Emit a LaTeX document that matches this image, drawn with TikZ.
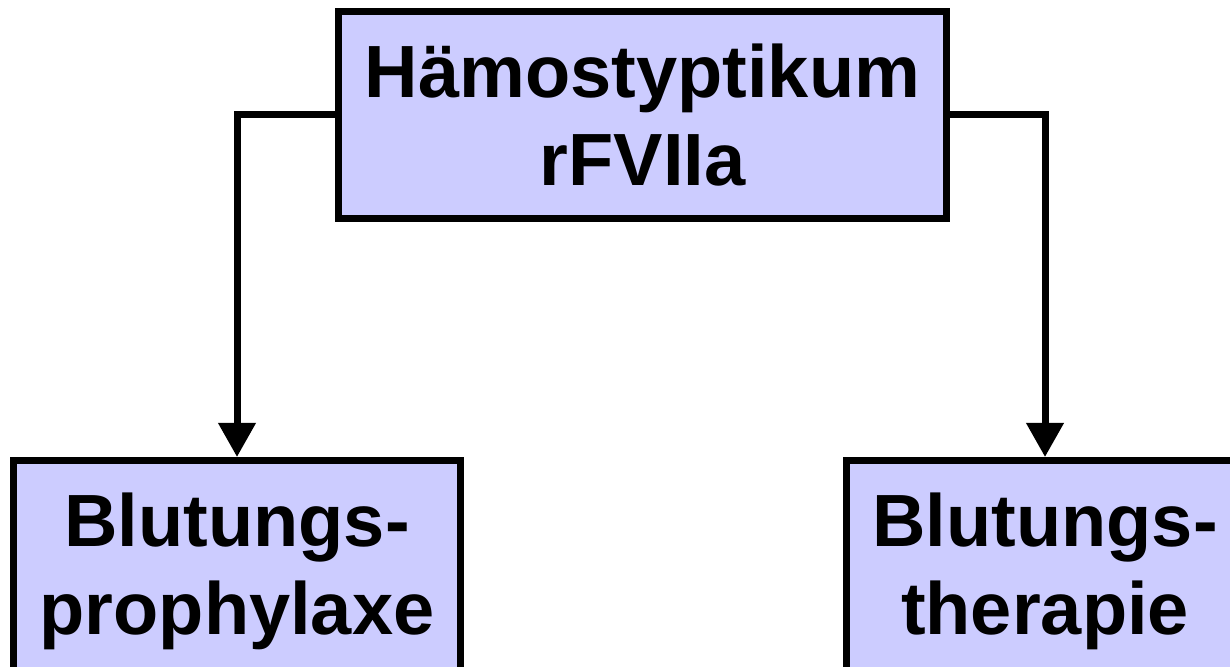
\documentclass[tikz,border=0pt]{standalone}
\usepackage{fontspec}
\setmainfont{Liberation Sans}
\usetikzlibrary{arrows.meta}

\definecolor{kastenblau}{RGB}{204,204,255}

\tikzset{
	kasten/.style={draw=black, fill=kastenblau, line width=3.5pt, inner sep=0pt,
		align=center, font=\bfseries\fontsize{37}{44}\selectfont},
	pfeil/.style={line width=3.5pt, -{Triangle[width=18pt,length=17pt]}}
}

\begin{document}
\begin{tikzpicture}[x=0.5pt,y=-0.5pt]
	\useasboundingbox (0,0) rectangle (1230,667);

	% obere Box
	\node[kasten, minimum width=304pt, minimum height=103.5pt] (haemo) at (642.5,115) {Hämostyptikum\\rFVIIa};

	% untere Boxen
	\node[kasten, minimum width=223.5pt, minimum height=110.5pt] (prophylaxe) at (237,571) {Blutungs-\\prophylaxe};
	\node[kasten, minimum width=198.5pt, minimum height=110.5pt] (therapie) at (1045,571) {Blutungs-\\therapie};

	% Pfeile
	\draw[pfeil] (haemo.west) -| (prophylaxe.north);
	\draw[pfeil] (haemo.east) -| (therapie.north);
\end{tikzpicture}
\end{document}
